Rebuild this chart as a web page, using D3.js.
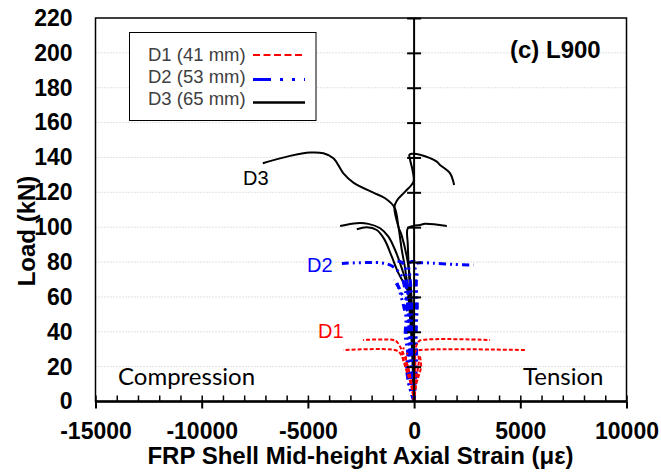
<!DOCTYPE html>
<html>
<head>
<meta charset="utf-8">
<script src="https://cdn.jsdelivr.net/npm/d3@7"></script>
<style>
  body { margin: 0; background: #fff; }
  svg { display: block; }
  .tick text { font-family: "Liberation Sans", Arial, sans-serif; font-weight: bold; font-size: 23px; fill: #000; }
</style>
</head>
<body>
<svg id="chart" width="661" height="474"></svg>
<script>
const width = 661;
const height = 474;

// plot area in pixels
const plotLeft = 95.5, plotRight = 626.5, plotTop = 18, plotBottom = 401.5;

const xTicks = [-15000, -10000, -5000, 0, 5000, 10000];
const yTicks = [0, 20, 40, 60, 80, 100, 120, 140, 160, 180, 200, 220];

const seriesNames = ["D1 (41 mm)", "D2 (53 mm)", "D3 (65 mm)"];

// D1 (41 mm) gauges: [strain (µε), load (kN)]
const d1Gauges = [
  [[0,0],[-100,8],[-200,15],[-344,21.9],[-579,29.5],[-816,34.3],[-974,35.3],[-2400,35.3]],
  [[0,0],[-80,6],[-200,12],[-344,18.1],[-500,24],[-659,27.7],[-894,29.5],[-3330,29.5]],
  [[0,0],[30,10],[60,22],[47,29.5],[203,34.3],[362,35.3],[3578,35.3]],
  [[0,0],[20,10],[40,20],[47,28.6],[283,29.5],[5306,29.5]],
  [[0,0],[-120,10],[-250,18],[-380,25],[-300,28]],
  [[0,0],[90,10],[170,18],[230,24],[180,27]],
  [[0,0],[-60,8],[-250,14],[-420,20],[-560,27],[-480,31]],
  [[0,0],[60,8],[200,14],[330,20],[260,27]]
];

// D2 (53 mm) gauges
const d2Gauges = [
  [[0,0],[-50,10],[-120,25],[-200,40],[-280,52],[-350,60],[-424,64],[-579,71.6],[-816,75.5],[-1130,78.3],[-1600,79.6],[-3400,79.2]],
  [[0,0],[-60,15],[-150,35],[-230,50],[-320,58],[-503,60.1],[-739,65.9],[-973,69.7]],
  [[0,0],[40,15],[80,35],[100,55],[80,70],[60,78],[127,79.3],[438,79.6],[909,79.3],[1850,78.7],[2790,78.3]],
  [[0,0],[-100,15],[-220,30],[-260,45],[-300,55],[-330,65],[-380,72],[-450,78],[-600,80],[-900,80.5]],
  [[0,0],[-30,20],[-80,40],[-120,60],[-200,72],[-250,78],[-180,80],[0,80.5],[150,80]],
  [[0,0],[-160,12],[-200,28],[-180,45],[-240,58],[-200,68]],
  [[0,0],[-250,10],[-300,20],[-200,30],[-350,40],[-250,50],[-400,55],[-300,62],[-450,68]],
  [[0,0],[-200,8],[-350,18],[-300,28],[-420,38],[-380,48],[-500,55],[-650,62],[-800,68]],
  [[0,0],[60,10],[120,25],[90,40],[150,55],[100,68],[170,75]]
];

// D3 (65 mm) gauges
const d3Gauges = [
  [[0,0],[-50,15],[-120,35],[-200,50],[-300,65],[-424,76.4],[-579,86.9],[-739,100.3],[-927,111.4],[-1365,116.6],[-1916,119.8],[-2858,125.6],[-3329,130.9],[-3800,139.6],[-4270,142.4],[-4896,142.8],[-5838,140.9],[-7123,136.7]],
  [[0,0],[-30,20],[-80,45],[-150,65],[-300,80],[-579,95],[-739,100.3],[-927,111.6],[-800,115.5],[-424,120.4],[-30,126.1],[-80,133],[-190,138.7],[-220,141.6],[-110,142.1],[280,141.6],[1070,137.6],[1220,135.7],[1695,130.9],[1883,124.2]],
  [[0,0],[-40,20],[-100,40],[-200,60],[-579,76.4],[-895,86.9],[-1210,94.6],[-1600,99.4],[-2152,101.9],[-2698,102.3],[-3484,100.7]],
  [[0,0],[-40,20],[-120,45],[-250,62],[-739,73.6],[-1050,83.1],[-1400,93],[-1756,98.4],[-2227,100],[-2698,98.8]],
  [[0,0],[-30,20],[-100,40],[-180,60],[-250,76],[-297,90],[-297,99.4],[-33,100.7],[283,101.3],[518,101.9],[1540,100.7]]
];

const svg = d3.select("#chart");

const xScale = d3.scaleLinear().domain([-15000, 10000]).range([plotLeft, plotRight]);
const yScale = d3.scaleLinear().domain([0, 220]).range([plotBottom, plotTop]);

// gridlines
svg.append("g")
  .selectAll("line")
  .data(yTicks.filter(d => d > 0 && d < 220))
  .enter()
  .append("line")
  .attr("x1", plotLeft).attr("x2", plotRight)
  .attr("y1", d => yScale(d)).attr("y2", d => yScale(d))
  .attr("stroke", "#c4c4c4")
  .attr("stroke-dasharray", "1,2");

// frame
svg.append("rect")
  .attr("x", plotLeft).attr("y", plotTop)
  .attr("width", plotRight - plotLeft).attr("height", plotBottom - plotTop)
  .attr("fill", "none")
  .attr("stroke", "#000")
  .attr("stroke-width", 1.5);

// curves
const line = d3.line()
  .x(d => xScale(d[0]))
  .y(d => yScale(d[1]))
  .curve(d3.curveCatmullRom.alpha(0.5));

const curves = svg.append("g");

curves.selectAll(".d3")
  .data(d3Gauges)
  .enter()
  .append("path")
  .attr("class", "d3")
  .attr("d", line)
  .attr("fill", "none")
  .attr("stroke", "#000")
  .attr("stroke-width", 2);

curves.selectAll(".d2")
  .data(d2Gauges)
  .enter()
  .append("path")
  .attr("class", "d2")
  .attr("d", line)
  .attr("fill", "none")
  .attr("stroke", "#0000ff")
  .attr("stroke-width", 3)
  .attr("stroke-dasharray", "7,4,2,4,2,4");

curves.selectAll(".d1")
  .data(d1Gauges)
  .enter()
  .append("path")
  .attr("class", "d1")
  .attr("d", line)
  .attr("fill", "none")
  .attr("stroke", "#ff0000")
  .attr("stroke-width", 2)
  .attr("stroke-dasharray", "4,2");

// x axis: major ticks with labels, minor ticks inside
svg.append("g")
  .attr("transform", `translate(0, ${plotBottom})`)
  .call(d3.axisBottom(xScale).tickValues(xTicks).tickSize(7).tickPadding(14).tickFormat(d => String(d)))
  .call(g => g.select(".domain").remove())
  .call(g => g.selectAll(".tick line").attr("stroke-width", 2));

svg.append("g")
  .attr("transform", `translate(0, ${plotBottom})`)
  .call(d3.axisTop(xScale).tickValues(d3.range(-15000, 10001, 1000)).tickSize(6).tickFormat(""))
  .call(g => g.select(".domain").remove())
  .call(g => g.selectAll(".tick line").attr("stroke-width", 1.5));

svg.append("line")
  .attr("x1", plotLeft).attr("x2", plotRight)
  .attr("y1", plotBottom).attr("y2", plotBottom)
  .attr("stroke", "#000")
  .attr("stroke-width", 2.5);

// y axis crossing at x = 0, labels at the left
svg.append("line")
  .attr("x1", xScale(0)).attr("x2", xScale(0))
  .attr("y1", plotTop).attr("y2", plotBottom)
  .attr("stroke", "#000")
  .attr("stroke-width", 2);

svg.append("g")
  .attr("transform", `translate(${xScale(0)}, 0)`)
  .call(d3.axisLeft(yScale).tickValues(yTicks.slice(1)).tickSize(7).tickFormat(""))
  .call(g => g.select(".domain").remove())
  .call(g => g.selectAll(".tick line").attr("stroke-width", 2));

svg.append("g")
  .attr("transform", `translate(${xScale(0)}, 0)`)
  .call(d3.axisRight(yScale).tickValues(yTicks.slice(1)).tickSize(7).tickFormat(""))
  .call(g => g.select(".domain").remove())
  .call(g => g.selectAll(".tick line").attr("stroke-width", 2));

svg.append("g")
  .attr("transform", `translate(${plotLeft}, 0)`)
  .call(d3.axisLeft(yScale).tickValues(yTicks).tickSize(0).tickPadding(23))
  .call(g => g.select(".domain").remove());

// axis titles
svg.append("text")
  .attr("x", 360.5).attr("y", 464)
  .attr("text-anchor", "middle")
  .style("font-family", "'Liberation Sans', Arial, sans-serif")
  .style("font-weight", "bold")
  .style("font-size", "24px")
  .text("FRP Shell Mid-height Axial Strain (με)");

svg.append("text")
  .attr("transform", "translate(35, 231) rotate(-90)")
  .attr("text-anchor", "middle")
  .style("font-family", "'Liberation Sans', Arial, sans-serif")
  .style("font-weight", "bold")
  .style("font-size", "24px")
  .text("Load (kN)");

// panel title
svg.append("text")
  .attr("x", 510).attr("y", 58)
  .style("font-family", "'Liberation Sans', Arial, sans-serif")
  .style("font-weight", "bold")
  .style("font-size", "24px")
  .text("(c) L900");

// region labels
const plain = sel => sel
  .style("font-family", "Lato, 'Open Sans', sans-serif")
  .style("font-size", "24px");

svg.append("text").attr("x", 118).attr("y", 385).call(plain).text("Compression");
svg.append("text").attr("x", 523).attr("y", 385).call(plain).text("Tension");

// series labels
const arial = sel => sel
  .style("font-family", "'Liberation Sans', Arial, sans-serif")
  .style("font-size", "20px");

svg.append("text").attr("x", 243).attr("y", 185).call(arial).attr("fill", "#000").text("D3");
svg.append("text").attr("x", 307).attr("y", 272).call(arial).attr("fill", "#0000ff").text("D2");
svg.append("text").attr("x", 318).attr("y", 338).call(arial).attr("fill", "#ff0000").text("D1");

// legend
const legend = svg.append("g");

legend.append("rect")
  .attr("x", 129.5).attr("y", 32.5)
  .attr("width", 186.5).attr("height", 88)
  .attr("fill", "#fff")
  .attr("stroke", "#000");

const legendStyles = [
  { color: "#ff0000", dash: "7,3.5", width: 2 },
  { color: "#0000ff", dash: "18,9,3,9,3,9", width: 3 },
  { color: "#000", dash: null, width: 2.5 }
];
const legendTextY = [61, 83, 104.5];
const legendLineY = [55, 79.5, 102.5];

seriesNames.forEach((name, i) => {
  legend.append("text")
    .attr("x", 148).attr("y", legendTextY[i])
    .style("font-family", "'Liberation Sans', Arial, sans-serif")
    .style("font-size", "18.5px")
    .attr("fill", "#404040")
    .text(name);
  legend.append("line")
    .attr("x1", 253).attr("x2", 305)
    .attr("y1", legendLineY[i]).attr("y2", legendLineY[i])
    .attr("stroke", legendStyles[i].color)
    .attr("stroke-width", legendStyles[i].width)
    .attr("stroke-dasharray", legendStyles[i].dash);
});
</script>
</body>
</html>
